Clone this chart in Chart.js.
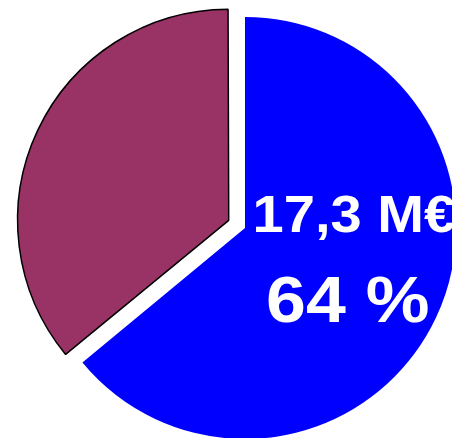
<!DOCTYPE html>
<html>
<head>
<meta charset="utf-8">
<script src="https://cdn.jsdelivr.net/npm/chart.js@4"></script>
<style>
    body { margin: 0; background: #ffffff; }
    #wrap { width: 452px; height: 438px; position: relative; }
</style>
</head>
<body>
<div id="wrap"><canvas id="pieChart"></canvas></div>
<script>
// data
const sliceLabels = ['Part A', 'Part B'];
const sliceShares = [64, 36];
const sliceColors = ['rgb(0,0,255)', 'rgb(153,51,102)'];
const amountLabel = '17,3 M€';
const shareLabel = '64 %';

// the exploded slice grows a little in Chart.js, pull it back to the pie radius
const keepRadius = {
    id: 'keepRadius',
    beforeDatasetsDraw(chart) {
        const arcs = chart.getDatasetMeta(0).data;
        arcs[1].outerRadius = arcs[0].outerRadius - 4;
    }
};

// text drawn inside the big slice
const sliceText = {
    id: 'sliceText',
    afterDatasetsDraw(chart) {
        const arc = chart.getDatasetMeta(0).data[0];
        const r = arc.outerRadius;
        const ctx = chart.ctx;
        ctx.save();
        ctx.fillStyle = '#ffffff';
        ctx.textAlign = 'left';
        ctx.textBaseline = 'alphabetic';

        ctx.save();
        ctx.translate(arc.x + r * 0.036, arc.y + r * 0.02);
        ctx.scale(1.1, 1);
        ctx.font = 'bold 51px "Liberation Sans", Arial, sans-serif';
        ctx.fillText(amountLabel, 0, 0);
        ctx.restore();

        ctx.save();
        ctx.translate(arc.x + r * 0.1, arc.y + r * 0.445);
        ctx.scale(1.12, 1);
        ctx.font = 'bold 64px "Liberation Sans", Arial, sans-serif';
        ctx.fillText(shareLabel, 0, 0);
        ctx.restore();

        ctx.restore();
    }
};

document.addEventListener("DOMContentLoaded", (event) => {
    const el = document.getElementById("pieChart");

    const data = {
        labels: sliceLabels,
        datasets: [{
            data: sliceShares,
            backgroundColor: sliceColors,
            borderColor: ['rgb(0,0,255)', 'rgb(0,0,0)'],
            borderWidth: [0, 1.5],
            offset: [0, 72],
            clip: false
        }]
    };
    const config = {
        type: 'pie',
        data: data,
        options: {
            responsive: true,
            maintainAspectRatio: false,
            animation: false,
            radius: 211,
            layout: {
                padding: { left: 38, top: 18, right: 0, bottom: 0 }
            },
            plugins: {
                legend: { display: false },
                tooltip: { enabled: false }
            }
        },
        plugins: [keepRadius, sliceText]
    };
    new Chart(el, config);
});
</script>
</body>
</html>
